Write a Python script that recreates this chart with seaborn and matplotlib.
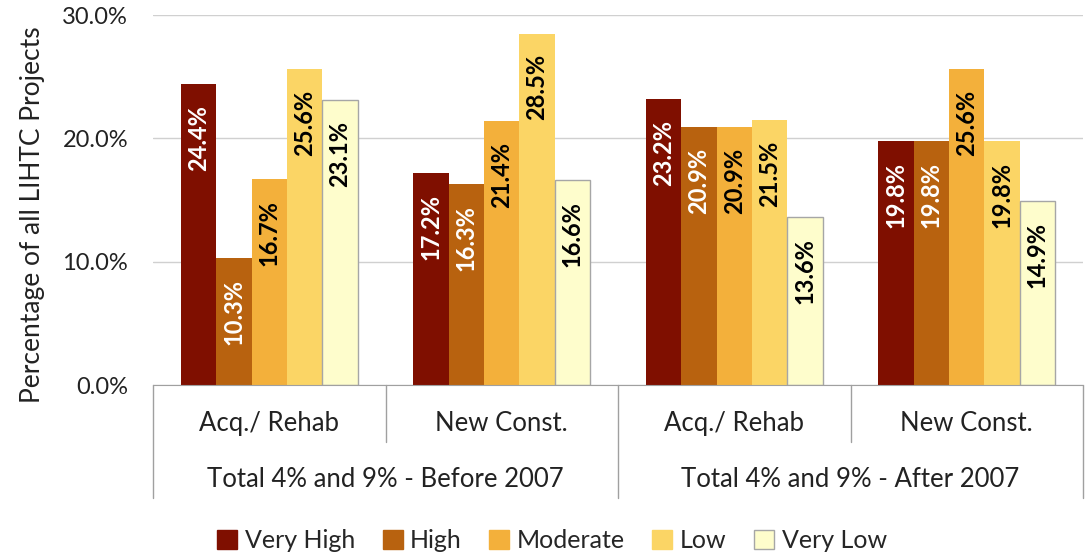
import numpy as np
import pandas as pd
import matplotlib.pyplot as plt
import matplotlib.transforms as mtransforms
from matplotlib.patches import Patch
import seaborn as sns

# data
periods = ["Total 4% and 9% - Before 2007", "Total 4% and 9% - After 2007"]
types = ["Acq./ Rehab", "New Const."]
levels = ["Very High", "High", "Moderate", "Low", "Very Low"]
before_acq = [24.4, 10.3, 16.7, 25.6, 23.1]
before_new = [17.2, 16.3, 21.4, 28.5, 16.6]
after_acq = [23.2, 20.9, 20.9, 21.5, 13.6]
after_new = [19.8, 19.8, 25.6, 19.8, 14.9]
colors = ["#7F0F00", "#B8620F", "#F3B03B", "#FBD565", "#FEFDCC"]
label_colors = ["white", "white", "black", "black", "black"]

groups = [before_acq, before_new, after_acq, after_new]
group_keys = ["g0", "g1", "g2", "g3"]
rows = []
for key, vals in zip(group_keys, groups):
    for lev, v in zip(levels, vals):
        rows.append({"group": key, "level": lev, "value": v})
df = pd.DataFrame(rows)

sns.set_style("white")
plt.rcParams['font.family'] = ['Lato', 'DejaVu Sans']

fig = plt.figure(figsize=(10.85, 5.59), dpi=100)
ax = fig.add_axes([153 / 1085, 1 - 385 / 559, 930 / 1085, 370 / 559])

sns.barplot(data=df, x="group", y="value", hue="level", hue_order=levels,
            palette=colors, width=0.76, linewidth=0, ax=ax, legend=False,
            saturation=1)

# bar value labels, rotated inside top of bar
for i, cont in enumerate(ax.containers):
    for bar in cont:
        h = bar.get_height()
        if i == 4:
            bar.set_edgecolor("#A6A6A6")
            bar.set_linewidth(1)
        ax.annotate(f"{h:.1f}%", (bar.get_x() + bar.get_width() / 2, h),
                    xytext=(0, -15), textcoords="offset points",
                    rotation=90, ha="center", va="top", fontsize=17,
                    fontweight="bold", color=label_colors[i])

ax.set_ylim(0, 30)
ax.set_xlim(-0.5, 3.5)
ax.set_yticks([0, 10, 20, 30])
ax.set_yticklabels([f"{t:.1f}%" for t in [0, 10, 20, 30]], fontsize=17, color="#222222")
ax.tick_params(axis="y", length=0, pad=18)
ax.set_xticks([])
ax.set_xlabel("")
ax.set_ylabel("Percentage of all LIHTC Projects", fontsize=19, color="#222222")
ax.yaxis.set_label_coords(-0.116, 0.46)
ax.yaxis.grid(True, color="#D0D0D0", linewidth=1)
ax.set_axisbelow(True)
for s in ["left", "top", "right"]:
    ax.spines[s].set_visible(False)
ax.spines["bottom"].set_color("#A0A0A0")

# multi-level category axis
trans = mtransforms.blended_transform_factory(ax.transData, ax.transAxes)
for xpos, depth in [(-0.5, -0.305), (0.5, -0.155), (1.5, -0.305), (2.5, -0.155), (3.5, -0.305)]:
    ax.plot([xpos, xpos], [0, depth], transform=trans, color="#A0A0A0",
            linewidth=1, clip_on=False)
for i in range(4):
    ax.text(i, -0.105, types[i % 2], transform=trans, ha="center", va="center",
            fontsize=18.5, color="#222222")
for j, p in enumerate(periods):
    ax.text(0.5 + 2 * j, -0.255, p, transform=trans, ha="center", va="center",
            fontsize=18.5, color="#222222")

handles = [Patch(facecolor=c, edgecolor=("#A6A6A6" if k == 4 else c)) for k, c in enumerate(colors)]
fig.legend(handles, levels, loc="center", bbox_to_anchor=(552 / 1085, 1 - 541 / 559),
           ncol=5, frameon=False, fontsize=18, handlelength=0.8, handleheight=0.8,
           handletextpad=0.3, columnspacing=1.1)

fig.savefig("out.png", dpi=100)
